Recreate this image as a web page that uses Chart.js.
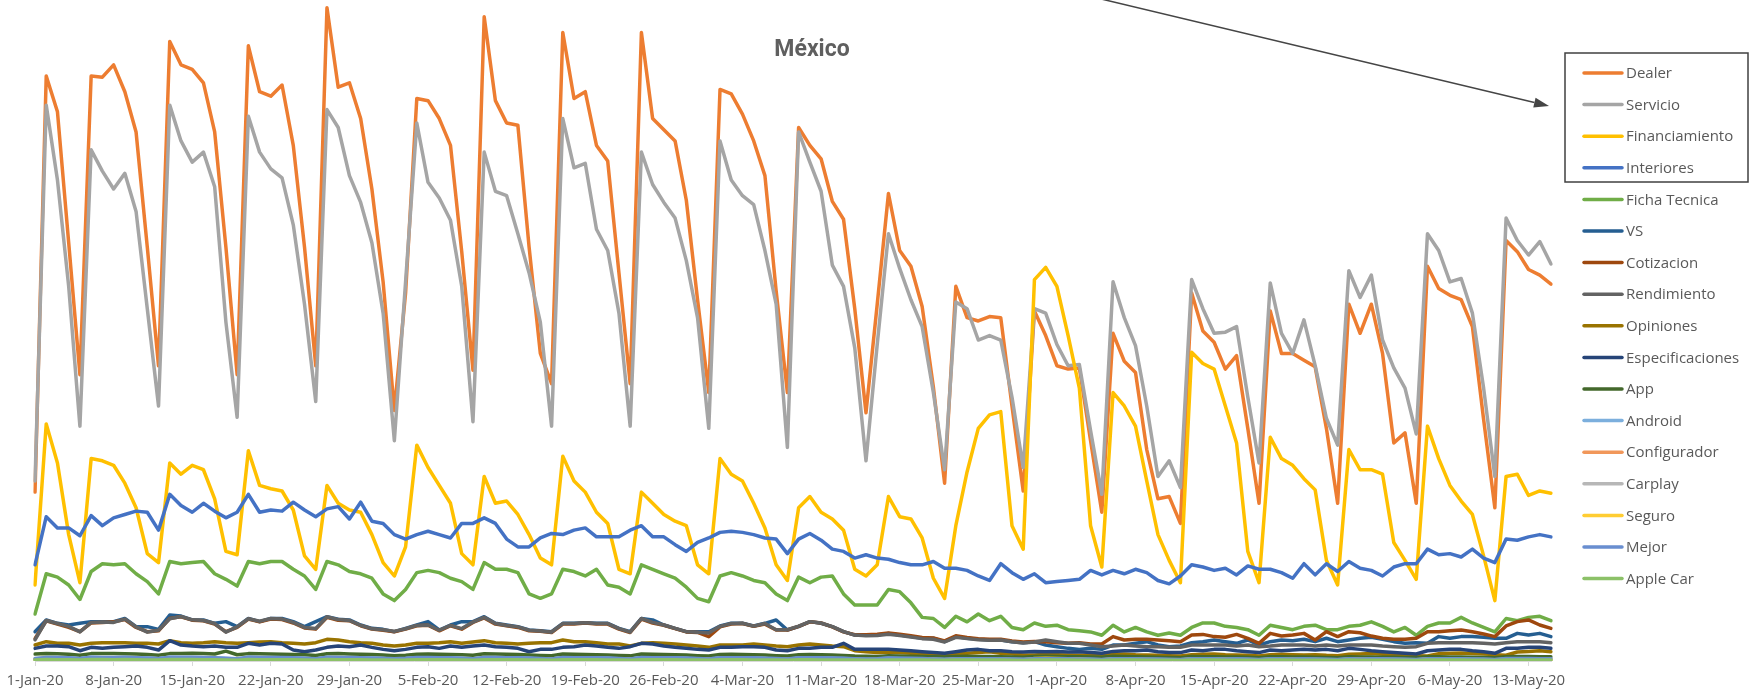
<!DOCTYPE html>
<html>
<head>
<meta charset="utf-8">
<script src="https://cdn.jsdelivr.net/npm/chart.js@4.4.1/dist/chart.umd.min.js"></script>
<style>
  html, body { margin: 0; padding: 0; background: #ffffff; }
  #wrap { width: 1754px; height: 693px; position: relative; }
</style>
</head>
<body>
<div id="wrap"><canvas id="chart" width="1754" height="693"></canvas></div>
<script>
// Daily visits per site section, México, 1-Jan-20 to 15-May-20 (one row = 7 days)
const dealer = [
  1510, 5230, 4910, 3740, 2560, 5230, 5220,
  5330, 5090, 4730, 3700, 2640, 5540, 5330,
  5290, 5170, 4730, 3700, 2560, 5500, 5090,
  5050, 5150, 4610, 3700, 2640, 5840, 5130,
  5170, 4850, 4220, 3390, 2240, 3290, 5030,
  5010, 4850, 4610, 3660, 2600, 5760, 5010,
  4810, 4790, 3700, 2750, 2480, 5620, 5030,
  5090, 4610, 4470, 3470, 2480, 5620, 4850,
  4750, 4650, 4120, 3230, 2400, 5110, 5070,
  4890, 4650, 4340, 3310, 2400, 4770, 4610,
  4490, 4110, 3950, 3150, 2220, 3190, 4180,
  3670, 3530, 3170, 2450, 1590, 3350, 3070,
  3040, 3080, 3070, 2280, 1520, 3130, 2910,
  2640, 2610, 2620, 1970, 1330, 2930, 2680,
  2580, 1890, 1450, 1470, 1230, 3290, 2950,
  2850, 2610, 2730, 2080, 1410, 3130, 2750,
  2750, 2690, 2630, 2080, 1410, 3190, 2930,
  3190, 2750, 1950, 2040, 1410, 3530, 3330,
  3270, 3230, 2990, 2160, 1370, 3760, 3660,
  3500, 3450, 3370
];
const servicio = [
  1610, 4970, 4300, 3350, 2100, 4570, 4380,
  4220, 4360, 4020, 3150, 2280, 4970, 4650,
  4460, 4550, 4240, 3030, 2180, 4870, 4550,
  4400, 4320, 3900, 3190, 2320, 4930, 4770,
  4340, 4100, 3740, 3110, 1970, 3390, 4810,
  4280, 4140, 3940, 3350, 2140, 4550, 4200,
  4160, 3820, 3470, 3030, 2100, 4850, 4410,
  4450, 3860, 3670, 3110, 2100, 4550, 4260,
  4100, 3960, 3580, 3070, 2080, 4650, 4300,
  4160, 4080, 3670, 3190, 1910, 4730, 4460,
  4200, 3540, 3350, 2800, 1790, 2830, 3820,
  3510, 3230, 2990, 2400, 1710, 3210, 3150,
  2870, 2910, 2870, 2360, 1730, 3150, 3110,
  2830, 2640, 2650, 2060, 1490, 3390, 3070,
  2820, 2280, 1650, 1790, 1550, 3410, 3150,
  2930, 2940, 2990, 2360, 1770, 3380, 2930,
  2750, 3050, 2640, 2170, 1930, 3490, 3250,
  3450, 2870, 2620, 2440, 2030, 3820, 3670,
  3390, 3420, 3110, 2440, 1650, 3960, 3760,
  3630, 3750, 3550
];
const financiamiento = [
  680, 2120, 1770, 1130, 700, 1810, 1790,
  1750, 1590, 1370, 960, 880, 1770, 1670,
  1750, 1710, 1450, 980, 950, 1880, 1570,
  1540, 1520, 1350, 940, 820, 1570, 1410,
  1350, 1330, 1130, 880, 760, 1020, 1930,
  1730, 1570, 1410, 960, 860, 1650, 1410,
  1430, 1310, 1130, 920, 860, 1830, 1610,
  1510, 1330, 1230, 820, 780, 1510, 1410,
  1310, 1250, 1210, 860, 780, 1810, 1670,
  1610, 1410, 1190, 860, 720, 1370, 1470,
  1330, 1270, 1170, 820, 760, 860, 1470,
  1290, 1270, 1100, 740, 560, 1210, 1690,
  2080, 2200, 2230, 1210, 1000, 3410, 3520,
  3350, 2910, 2440, 1210, 840, 2400, 2280,
  2100, 1610, 1130, 900, 700, 2760, 2660,
  2610, 2280, 1950, 980, 700, 2000, 1810,
  1750, 1630, 1530, 900, 680, 1890, 1710,
  1710, 1670, 1060, 900, 730, 2100, 1810,
  1570, 1430, 1310, 940, 540, 1650, 1670,
  1480, 1520, 1500
];
const interiores = [
  860, 1290, 1190, 1190, 1120, 1300, 1210,
  1280, 1310, 1340, 1330, 1170, 1490, 1390,
  1330, 1410, 1340, 1280, 1330, 1490, 1330,
  1350, 1340, 1420, 1350, 1290, 1360, 1380,
  1270, 1420, 1250, 1230, 1130, 1090, 1130,
  1160, 1130, 1100, 1230, 1230, 1280, 1230,
  1090, 1020, 1020, 1100, 1140, 1130, 1170,
  1190, 1110, 1110, 1110, 1170, 1210, 1110,
  1110, 1040, 980, 1060, 1100, 1150, 1160,
  1150, 1130, 1100, 1090, 960, 1090, 1140,
  1080, 1000, 980, 920, 950, 920, 910,
  880, 860, 860, 890, 830, 830, 810,
  760, 720, 870, 790, 730, 780, 700,
  710, 720, 730, 810, 770, 810, 780,
  820, 790, 720, 690, 760, 860, 840,
  810, 830, 770, 850, 820, 820, 790,
  740, 870, 770, 870, 800, 890, 830,
  810, 760, 840, 870, 870, 1000, 950,
  960, 930, 1000, 920, 880, 1090, 1080,
  1110, 1130, 1110
];
const fichaTecnica = [
  420, 780, 750, 680, 550, 800, 870,
  860, 870, 780, 710, 600, 890, 870,
  880, 890, 780, 730, 670, 890, 870,
  890, 890, 820, 760, 640, 890, 860,
  800, 780, 740, 600, 540, 640, 790,
  810, 790, 740, 710, 640, 880, 820,
  820, 790, 600, 560, 600, 820, 800,
  760, 820, 680, 660, 600, 860, 820,
  780, 740, 660, 560, 530, 760, 790,
  760, 720, 700, 600, 540, 750, 700,
  750, 760, 600, 500, 500, 500, 640,
  620, 520, 390, 380, 300, 400, 350,
  420, 360, 400, 300, 280, 340, 310,
  320, 280, 270, 260, 230, 320, 260,
  300, 260, 230, 250, 230, 300, 340,
  340, 310, 300, 280, 230, 320, 300,
  280, 310, 320, 280, 280, 310, 320,
  350, 310, 260, 300, 230, 310, 340,
  340, 390, 340, 300, 260, 380, 360,
  390, 400, 360
];
const vs = [
  262, 367, 337, 322, 337, 352, 352,
  352, 381, 307, 307, 283, 411, 402,
  367, 367, 337, 352, 307, 381, 352,
  381, 381, 352, 307, 352, 396, 373,
  367, 322, 292, 283, 262, 292, 322,
  352, 277, 322, 352, 352, 396, 337,
  322, 307, 277, 271, 262, 337, 337,
  343, 337, 337, 292, 262, 381, 367,
  322, 292, 262, 262, 262, 313, 337,
  337, 313, 337, 367, 277, 307, 352,
  337, 307, 262, 232, 232, 232, 247,
  232, 218, 203, 203, 173, 218, 203,
  194, 188, 188, 173, 164, 173, 143,
  128, 113, 104, 113, 104, 143, 143,
  158, 173, 143, 128, 134, 164, 173,
  188, 173, 158, 188, 143, 173, 188,
  182, 194, 173, 203, 173, 188, 203,
  212, 194, 173, 158, 164, 158, 218,
  203, 218, 218, 212, 203, 203, 247,
  232, 247, 218
];
const cotizacion = [
  200, 360, 330, 300, 262, 340, 345,
  350, 370, 300, 262, 270, 381, 395,
  365, 360, 330, 262, 300, 375, 350,
  375, 370, 340, 295, 285, 390, 365,
  360, 315, 285, 275, 262, 285, 315,
  320, 270, 315, 285, 345, 385, 330,
  315, 300, 270, 265, 255, 330, 330,
  340, 330, 330, 285, 255, 375, 340,
  320, 290, 260, 255, 218, 305, 330,
  335, 310, 330, 277, 277, 310, 350,
  340, 305, 260, 235, 235, 240, 250,
  240, 225, 210, 205, 180, 225, 210,
  200, 195, 195, 180, 170, 175, 173,
  164, 158, 164, 152, 152, 218, 188,
  194, 194, 188, 182, 173, 232, 238,
  218, 212, 238, 203, 158, 247, 223,
  232, 247, 188, 262, 218, 262, 253,
  223, 203, 194, 194, 203, 262, 262,
  271, 277, 262, 241, 218, 313, 352,
  367, 322, 292
];
const rendimiento = [
  190, 362, 335, 310, 260, 345, 348,
  345, 375, 305, 258, 275, 378, 398,
  368, 362, 335, 258, 305, 378, 355,
  380, 375, 345, 300, 290, 395, 370,
  362, 318, 288, 280, 265, 288, 318,
  322, 275, 318, 290, 348, 390, 335,
  318, 305, 275, 268, 258, 335, 335,
  342, 335, 335, 290, 258, 380, 345,
  322, 292, 262, 258, 250, 310, 335,
  338, 312, 335, 280, 280, 312, 352,
  340, 308, 262, 232, 225, 228, 240,
  228, 215, 200, 195, 170, 212, 200,
  190, 185, 188, 172, 160, 170, 188,
  173, 158, 158, 143, 128, 134, 143,
  134, 128, 128, 122, 122, 143, 143,
  143, 143, 134, 143, 128, 134, 143,
  143, 143, 134, 143, 134, 143, 143,
  143, 134, 128, 122, 128, 158, 164,
  164, 164, 164, 158, 152, 164, 173,
  173, 173, 164
];
const opiniones = [
  143, 173, 158, 158, 143, 158, 164,
  164, 164, 158, 158, 152, 182, 164,
  158, 164, 173, 164, 158, 164, 170,
  173, 164, 158, 152, 164, 194, 188,
  173, 164, 158, 143, 134, 143, 158,
  158, 164, 173, 158, 170, 182, 164,
  158, 152, 158, 164, 164, 188, 173,
  173, 164, 152, 152, 134, 158, 164,
  158, 152, 143, 134, 122, 143, 143,
  143, 152, 143, 134, 128, 143, 152,
  143, 134, 128, 92, 83, 75, 80,
  75, 69, 63, 54, 51, 69, 69,
  75, 83, 69, 63, 54, 54, 60,
  57, 54, 51, 54, 48, 60, 63,
  57, 54, 51, 48, 45, 57, 60,
  63, 57, 54, 51, 45, 57, 60,
  57, 54, 57, 51, 48, 60, 63,
  66, 60, 54, 51, 48, 45, 66,
  69, 72, 66, 63, 57, 51, 80,
  86, 92, 83
];
const especificaciones = [
  113, 134, 134, 128, 92, 122, 113,
  122, 128, 134, 122, 98, 182, 143,
  134, 128, 134, 122, 122, 158, 143,
  158, 152, 98, 83, 98, 122, 134,
  128, 143, 122, 104, 92, 104, 122,
  128, 113, 134, 122, 134, 143, 128,
  122, 113, 83, 104, 104, 122, 128,
  143, 134, 122, 113, 128, 158, 152,
  134, 122, 113, 104, 98, 122, 122,
  128, 128, 122, 98, 92, 113, 113,
  122, 122, 158, 104, 104, 104, 104,
  98, 92, 83, 75, 69, 83, 98,
  104, 92, 92, 83, 80, 86, 83,
  86, 80, 83, 75, 69, 86, 92,
  92, 98, 83, 75, 75, 98, 92,
  104, 104, 92, 83, 75, 98, 92,
  98, 104, 98, 104, 92, 113, 104,
  92, 83, 75, 69, 63, 92, 98,
  104, 104, 92, 83, 69, 113, 113,
  122, 122, 113
];
const app = [
  62, 66, 64, 60, 52, 66, 68,
  66, 64, 62, 58, 52, 66, 68,
  70, 66, 62, 88, 56, 66, 64,
  62, 60, 58, 56, 50, 64, 66,
  62, 60, 58, 54, 48, 52, 60,
  62, 60, 58, 56, 52, 64, 62,
  60, 58, 54, 50, 48, 62, 60,
  58, 56, 54, 50, 46, 62, 60,
  58, 56, 54, 48, 44, 58, 60,
  58, 56, 54, 48, 44, 56, 58,
  56, 54, 50, 44, 42, 40, 46,
  44, 42, 40, 38, 36, 40, 42,
  40, 40, 38, 36, 34, 40, 42,
  40, 38, 38, 36, 34, 42, 40,
  38, 36, 34, 32, 30, 40, 38,
  38, 36, 36, 34, 30, 38, 38,
  36, 36, 34, 32, 30, 38, 36,
  36, 34, 34, 32, 30, 38, 38,
  36, 36, 34, 32, 30, 38, 40,
  40, 38, 38
];
const android = [
  22, 30, 28, 26, 20, 31, 30,
  29, 30, 27, 24, 20, 32, 30,
  30, 29, 26, 22, 19, 31, 30,
  29, 28, 26, 22, 18, 30, 29,
  28, 27, 24, 21, 18, 22, 29,
  28, 27, 25, 22, 18, 30, 28,
  27, 26, 23, 21, 17, 29, 28,
  27, 26, 24, 21, 17, 29, 27,
  26, 25, 23, 20, 17, 28, 27,
  26, 25, 22, 20, 16, 27, 26,
  25, 24, 22, 19, 16, 18, 24,
  22, 21, 19, 17, 14, 19, 19,
  18, 18, 18, 16, 13, 18, 18,
  17, 17, 16, 14, 12, 18, 17,
  17, 16, 14, 12, 11, 17, 17,
  17, 16, 16, 14, 11, 17, 17,
  16, 16, 15, 14, 11, 17, 16,
  16, 16, 15, 13, 11, 18, 17,
  17, 17, 16, 14, 12, 19, 19,
  19, 18, 18
];
const configurador = [
  16, 24, 22, 20, 15, 24, 23,
  23, 24, 21, 18, 15, 25, 24,
  24, 23, 21, 18, 14, 25, 23,
  23, 22, 21, 17, 14, 24, 23,
  22, 21, 19, 16, 13, 17, 23,
  22, 21, 20, 17, 14, 23, 22,
  21, 20, 18, 16, 13, 23, 22,
  21, 20, 19, 16, 13, 22, 21,
  20, 20, 18, 16, 13, 22, 21,
  20, 19, 18, 15, 12, 21, 20,
  19, 18, 17, 15, 12, 14, 18,
  17, 16, 15, 13, 11, 15, 15,
  14, 14, 14, 12, 10, 14, 14,
  13, 13, 12, 11, 9, 14, 13,
  13, 12, 11, 10, 9, 13, 13,
  13, 12, 12, 11, 9, 13, 13,
  12, 12, 12, 11, 9, 13, 12,
  12, 12, 11, 10, 9, 14, 13,
  13, 13, 12, 11, 9, 15, 14,
  14, 14, 13
];
const carplay = [
  9, 14, 13, 12, 8, 14, 13,
  13, 14, 12, 11, 8, 15, 14,
  14, 13, 12, 10, 8, 14, 13,
  13, 13, 12, 10, 8, 14, 13,
  13, 12, 11, 10, 7, 9, 13,
  13, 12, 11, 10, 7, 13, 12,
  12, 12, 11, 9, 7, 13, 12,
  12, 12, 11, 9, 7, 13, 12,
  12, 11, 10, 9, 7, 12, 12,
  12, 11, 10, 9, 7, 12, 11,
  11, 11, 10, 8, 7, 8, 10,
  10, 9, 9, 8, 6, 8, 8,
  8, 8, 8, 7, 6, 8, 8,
  8, 8, 7, 7, 5, 8, 8,
  8, 7, 7, 6, 5, 8, 8,
  8, 7, 7, 6, 5, 8, 8,
  7, 7, 7, 6, 5, 8, 7,
  7, 7, 7, 6, 5, 8, 8,
  8, 8, 7, 6, 5, 9, 9,
  9, 8, 8
];
const seguro = [
  15, 26, 24, 21, 14, 25, 25,
  24, 25, 22, 19, 14, 27, 25,
  25, 24, 22, 18, 13, 26, 24,
  24, 23, 22, 18, 13, 25, 24,
  23, 22, 20, 17, 12, 16, 24,
  23, 22, 21, 18, 13, 24, 23,
  22, 21, 19, 16, 12, 24, 23,
  22, 21, 20, 16, 12, 23, 22,
  21, 21, 19, 16, 12, 23, 22,
  21, 20, 19, 15, 11, 22, 21,
  20, 19, 17, 14, 11, 14, 20,
  18, 17, 16, 13, 10, 16, 17,
  17, 19, 18, 12, 10, 22, 24,
  22, 20, 17, 12, 9, 18, 17,
  16, 14, 12, 10, 8, 19, 18,
  18, 16, 14, 10, 8, 16, 15,
  15, 14, 13, 10, 8, 16, 15,
  15, 14, 11, 10, 8, 17, 15,
  14, 13, 12, 10, 7, 15, 15,
  14, 14, 14
];
const mejor = [
  20, 32, 31, 29, 22, 33, 32,
  32, 33, 30, 27, 22, 34, 33,
  33, 32, 29, 25, 21, 34, 32,
  32, 31, 29, 25, 21, 33, 32,
  31, 30, 27, 24, 20, 24, 31,
  31, 30, 28, 24, 20, 32, 31,
  30, 29, 26, 23, 19, 32, 30,
  30, 29, 27, 23, 19, 31, 30,
  29, 28, 26, 22, 18, 30, 29,
  29, 28, 25, 22, 18, 29, 28,
  28, 27, 24, 21, 18, 20, 26,
  25, 24, 22, 19, 16, 21, 21,
  20, 20, 20, 18, 15, 21, 21,
  20, 20, 19, 17, 14, 21, 20,
  20, 19, 17, 15, 13, 21, 20,
  20, 19, 19, 17, 13, 20, 20,
  19, 19, 18, 16, 13, 20, 19,
  19, 19, 18, 16, 13, 21, 20,
  20, 20, 19, 17, 14, 23, 22,
  22, 21, 21
];
const appleCar = [
  8, 13, 12, 11, 8, 13, 13,
  12, 13, 12, 10, 8, 13, 13,
  13, 12, 11, 10, 7, 13, 12,
  12, 12, 11, 10, 7, 13, 12,
  12, 11, 10, 9, 7, 8, 12,
  12, 11, 11, 9, 7, 12, 12,
  11, 11, 10, 9, 7, 12, 11,
  11, 11, 10, 9, 7, 12, 11,
  11, 11, 10, 8, 6, 11, 11,
  11, 10, 10, 8, 6, 11, 11,
  10, 10, 9, 8, 6, 7, 10,
  9, 9, 8, 7, 6, 8, 8,
  8, 8, 8, 7, 5, 8, 8,
  8, 8, 7, 7, 5, 8, 8,
  8, 7, 7, 6, 5, 8, 8,
  8, 7, 7, 6, 5, 8, 8,
  7, 7, 7, 6, 5, 8, 7,
  7, 7, 7, 6, 5, 8, 8,
  8, 8, 7, 6, 5, 9, 9,
  9, 8, 8
];

// Weekly labels shown under the axis
const tickLabels = [
  '1-Jan-20', '8-Jan-20', '15-Jan-20', '22-Jan-20', '29-Jan-20',
  '5-Feb-20', '12-Feb-20', '19-Feb-20', '26-Feb-20', '4-Mar-20',
  '11-Mar-20', '18-Mar-20', '25-Mar-20', '1-Apr-20', '8-Apr-20',
  '15-Apr-20', '22-Apr-20', '29-Apr-20', '6-May-20', '13-May-20'
];

// One category per day, starting 1-Jan-20
const monthNames = ['Jan', 'Feb', 'Mar', 'Apr', 'May', 'Jun'];
const categories = [];
for (let i = 0; i < dealer.length; i++) {
  const d = new Date(2020, 0, 1 + i);
  categories.push(d.getDate() + '-' + monthNames[d.getMonth()] + '-20');
}

const seriesNames = [
  'Dealer', 'Servicio', 'Financiamiento', 'Interiores', 'Ficha Tecnica', 'VS',
  'Cotizacion', 'Rendimiento', 'Opiniones', 'Especificaciones', 'App',
  'Android', 'Configurador', 'Carplay', 'Seguro', 'Mejor', 'Apple Car'
];
const seriesData = [
  dealer, servicio, financiamiento, interiores, fichaTecnica, vs,
  cotizacion, rendimiento, opiniones, especificaciones, app,
  android, configurador, carplay, seguro, mejor, appleCar
];
const seriesColors = [
  '#ED7D31', '#A5A5A5', '#FFC000', '#4472C4', '#70AD47', '#255E91',
  '#9E480E', '#636363', '#997300', '#264478', '#43682B',
  '#7CAFDD', '#F1975A', '#B7B7B7', '#FFCD33', '#698ED0', '#8CC168'
];

const datasets = seriesNames.map((name, i) => ({
  label: name,
  data: seriesData[i],
  borderColor: seriesColors[i],
  backgroundColor: seriesColors[i],
  borderWidth: 3.5,
  pointRadius: 0,
  pointHoverRadius: 0,
  tension: 0,
  fill: false,
  borderJoinStyle: 'round',
  borderCapStyle: 'round',
  // later series are painted over earlier ones
  order: seriesNames.length - i
}));

// Title, pointer arrow and the right-hand legend column
const decorations = {
  id: 'decorations',
  afterDraw(chart) {
    const ctx = chart.ctx;
    ctx.save();

    // title
    ctx.fillStyle = '#5f5f5f';
    ctx.font = 'bold 23px Roboto';
    ctx.textAlign = 'center';
    ctx.textBaseline = 'middle';
    ctx.fillText('México', 812, 50);

    // legend
    const items = chart.data.datasets;
    const lx0 = 1584, lx1 = 1622, tx = 1626, y0 = 73, step = 31.6;
    ctx.font = '15px "Open Sans"';
    ctx.textAlign = 'left';
    items.forEach((ds, i) => {
      const y = y0 + i * step;
      ctx.strokeStyle = ds.borderColor;
      ctx.lineWidth = 3.5;
      ctx.lineCap = 'round';
      ctx.beginPath();
      ctx.moveTo(lx0, y);
      ctx.lineTo(lx1, y);
      ctx.stroke();
      ctx.fillStyle = '#595959';
      ctx.fillText(ds.label, tx, y + 1);
    });

    // frame around the first four entries
    ctx.strokeStyle = '#404040';
    ctx.lineWidth = 1.5;
    ctx.lineCap = 'butt';
    ctx.strokeRect(1565, 53, 183, 129);

    // pointer arrow
    const ax0 = 1097, ay0 = -2, ax1 = 1549, ay1 = 106;
    const ang = Math.atan2(ay1 - ay0, ax1 - ax0);
    const hl = 15, hw = 5;
    const bx = ax1 - hl * Math.cos(ang), by = ay1 - hl * Math.sin(ang);
    ctx.strokeStyle = '#454545';
    ctx.lineWidth = 1.5;
    ctx.beginPath();
    ctx.moveTo(ax0, ay0);
    ctx.lineTo(bx, by);
    ctx.stroke();
    ctx.fillStyle = '#454545';
    ctx.beginPath();
    ctx.moveTo(ax1, ay1);
    ctx.lineTo(bx + hw * Math.sin(ang), by - hw * Math.cos(ang));
    ctx.lineTo(bx - hw * Math.sin(ang), by + hw * Math.cos(ang));
    ctx.closePath();
    ctx.fill();

    ctx.restore();
  }
};

new Chart(document.getElementById('chart'), {
  type: 'line',
  data: { labels: categories, datasets: datasets },
  plugins: [decorations],
  options: {
    responsive: false,
    animation: false,
    devicePixelRatio: 1,
    layout: { padding: { left: 35, right: 203, top: 0, bottom: 0 } },
    plugins: {
      legend: { display: false },
      title: { display: false },
      tooltip: { enabled: false }
    },
    scales: {
      x: {
        type: 'category',
        offset: false,
        afterFit(scale) { scale.height = 32; },
        border: { display: true, color: '#d9d9d9', width: 1 },
        grid: {
          display: true,
          drawOnChartArea: false,
          drawTicks: true,
          tickLength: 5,
          color: '#d9d9d9'
        },
        ticks: {
          autoSkip: false,
          maxRotation: 0,
          minRotation: 0,
          padding: 6,
          color: '#595959',
          font: { family: '"Open Sans"', size: 15 },
          callback(value) {
            const label = this.getLabelForValue(value);
            return tickLabels.includes(label) ? label : null;
          }
        }
      },
      y: {
        display: false,
        min: 0,
        max: 5910
      }
    }
  }
});
</script>
</body>
</html>
